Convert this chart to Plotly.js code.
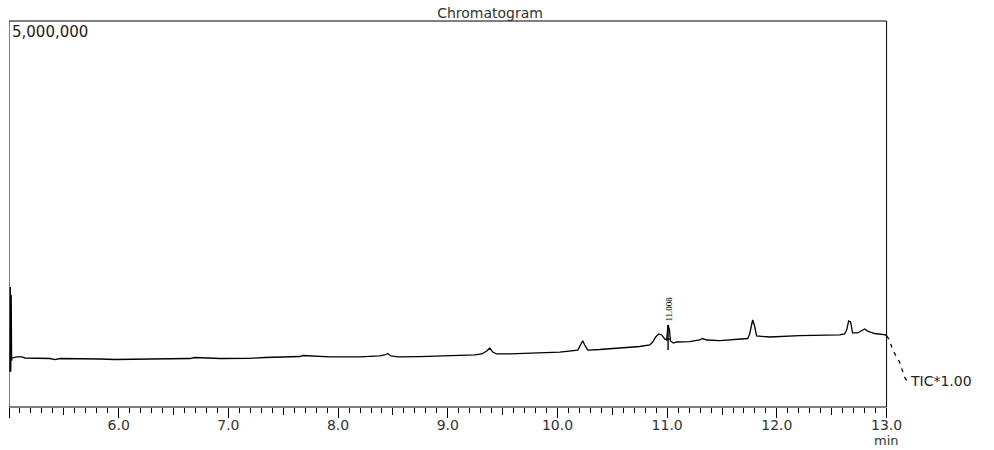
<!DOCTYPE html>
<html>
<head>
<meta charset="utf-8">
<script src="https://cdn.plot.ly/plotly-3.0.1.min.js"></script>
<style>html,body{margin:0;padding:0;background:#fff;}#chart{width:994px;height:450px;}</style>
</head>
<body>
<div id="chart"></div>
<script>
// Retention time (min) and TIC intensity (counts)
const timeMin = [5.009, 5.012, 5.016, 5.020, 5.024, 5.027, 5.073, 5.118, 5.146, 5.374, 5.419, 5.465, 5.829, 5.966, 6.285,
  6.649, 6.695, 6.923, 7.196, 7.333, 7.651, 7.679, 7.925, 8.198, 8.380, 8.426, 8.453, 8.481, 8.545, 8.745,
  9.246, 9.310, 9.355, 9.383, 9.410, 9.446, 9.565, 9.774, 10.021, 10.185, 10.212, 10.230, 10.248, 10.276, 10.385,
  10.567, 10.749, 10.841, 10.868, 10.895, 10.923, 10.950, 10.977, 10.995, 11.004, 11.008, 11.021, 11.030, 11.057, 11.087,
  11.205, 11.296, 11.323, 11.360, 11.478, 11.661, 11.734, 11.752, 11.770, 11.779, 11.797, 11.815, 11.934, 12.207,
  12.572, 12.617, 12.636, 12.654, 12.672, 12.690, 12.736, 12.772, 12.800, 12.827, 12.891, 12.991, 13.000];
const ticCounts = [453000, 1554000, 460000, 1450000, 600000, 635000, 648000, 648000, 635000, 628000, 615000, 628000, 622000, 615000, 622000,
  628000, 641000, 628000, 631000, 641000, 654000, 667000, 648000, 648000, 661000, 674000, 693000, 661000, 648000, 652000,
  674000, 687000, 725000, 764000, 712000, 687000, 687000, 699000, 712000, 738000, 803000, 859000, 803000, 738000, 745000,
  764000, 784000, 803000, 842000, 907000, 946000, 933000, 881000, 868000, 997000, 1062000, 997000, 855000, 829000, 842000,
  848000, 868000, 887000, 868000, 861000, 881000, 887000, 946000, 1075000, 1127000, 1049000, 920000, 907000, 924000,
  933000, 946000, 997000, 1114000, 1101000, 959000, 959000, 984000, 1010000, 984000, 952000, 933000, 920000];

// Trailing part past 13.0 min (dashed)
const tailTime = [13.000, 13.027, 13.055, 13.091, 13.118, 13.164, 13.191];
const tailCounts = [920000, 868000, 738000, 648000, 583000, 389000, 324000];

// Peak marker at 11.008
const peakRT = 11.008;
const peakLabel = "11.008";
const peakMarkTime = [11.008, 11.008, null, 10.985, 11.032];
const peakMarkCounts = [1062000, 738000, null, 881000, 881000];

// Axis ticks
const majorTickVals = [5.0, 6.0, 7.0, 8.0, 9.0, 10.0, 11.0, 12.0, 13.0];
const majorTickText = ["", "6.0", "7.0", "8.0", "9.0", "10.0", "11.0", "12.0", "13.0"];
const halfTickVals = [5.5, 6.5, 7.5, 8.5, 9.5, 10.5, 11.5, 12.5];
const yTopLabel = "5,000,000";
const yMax = 5000000;
const traceLabel = "TIC*1.00";
const xUnit = "min";
const chartTitle = "Chromatogram";

const minorTickVals = [];
for (let i = 50; i <= 130; i++) { if (i % 5 !== 0) minorTickVals.push(i / 10); }

const xr = [5.0, 13.25];
const font = {family: "DejaVu Sans, Verdana, sans-serif", size: 14, color: "#222"};

const traces = [
  {x: timeMin, y: ticCounts, type: "scatter", mode: "lines", line: {color: "#000", width: 1.3}, hoverinfo: "skip", showlegend: false, cliponaxis: false},
  {x: tailTime, y: tailCounts, type: "scatter", mode: "lines", line: {color: "#000", width: 1.3, dash: "4px,5px"}, hoverinfo: "skip", showlegend: false},
  {x: peakMarkTime, y: peakMarkCounts, type: "scatter", mode: "lines", line: {color: "#000", width: 1.4}, hoverinfo: "skip", showlegend: false},
  {x: [5.0], y: [null], xaxis: "x2", type: "scatter", mode: "lines", hoverinfo: "skip", showlegend: false},
  {x: [5.0], y: [null], xaxis: "x3", type: "scatter", mode: "lines", hoverinfo: "skip", showlegend: false}
];

const axBase = {range: xr, showgrid: false, zeroline: false, showline: false, ticks: "outside", tickcolor: "#000", tickwidth: 1, tickmode: "array", fixedrange: true};

const layout = {
  width: 994, height: 450,
  margin: {l: 9, r: 80, t: 21, b: 43},
  paper_bgcolor: "#fff", plot_bgcolor: "#fff",
  font: font,
  title: {text: chartTitle, font: {family: font.family, size: 14, color: "#333"}, xref: "container", yref: "container", x: 0.493, xanchor: "center", y: 0.971, yanchor: "middle"},
  xaxis: Object.assign({}, axBase, {tickvals: majorTickVals, ticktext: majorTickText, ticklen: 10, ticklabelstandoff: -5, tickfont: {family: font.family, size: 14, color: "#333"}}),
  xaxis2: Object.assign({}, axBase, {overlaying: "x", anchor: "y", side: "bottom", tickvals: halfTickVals, ticklen: 7, showticklabels: false}),
  xaxis3: Object.assign({}, axBase, {overlaying: "x", anchor: "y", side: "bottom", tickvals: minorTickVals, ticklen: 5, showticklabels: false}),
  yaxis: {range: [0, yMax], showgrid: false, zeroline: false, showline: false, showticklabels: false, ticks: "", fixedrange: true},
  shapes: [
    {type: "line", xref: "x", yref: "paper", x0: 5.0, x1: 13.0, y0: 1, y1: 1, line: {color: "#000", width: 1}},
    {type: "line", xref: "x", yref: "paper", x0: 5.0, x1: 13.0, y0: 0, y1: 0, line: {color: "#000", width: 1}},
    {type: "line", xref: "x", yref: "paper", x0: 5.0, x1: 5.0, y0: 0, y1: 1, line: {color: "#000", width: 1}},
    {type: "line", xref: "x", yref: "paper", x0: 13.0, x1: 13.0, y0: 0, y1: 1, line: {color: "#000", width: 1}}
  ],
  annotations: [
    {text: yTopLabel, xref: "paper", yref: "paper", x: 0, y: 1, xanchor: "left", yanchor: "top", xshift: 1, yshift: 0, showarrow: false, font: {family: font.family, size: 15, color: "#222"}},
    {text: xUnit, xref: "x", yref: "paper", x: 13.0, y: 0, xanchor: "center", yanchor: "middle", yshift: -33, showarrow: false, borderpad: 0, font: {family: font.family, size: 13, color: "#333"}},
    {text: traceLabel, xref: "x", yref: "y", x: 13.193, y: 337000, xanchor: "left", yanchor: "middle", showarrow: false, font: {family: font.family, size: 14, color: "#222"}},
    {text: peakLabel, xref: "x", yref: "y", x: peakRT, y: 1075000, xanchor: "center", yanchor: "bottom", textangle: -90, showarrow: false, font: {family: "Liberation Serif, serif", size: 9, color: "#000"}}
  ]
};

Plotly.newPlot("chart", traces, layout, {staticPlot: true, displayModeBar: false});
</script>
</body>
</html>
